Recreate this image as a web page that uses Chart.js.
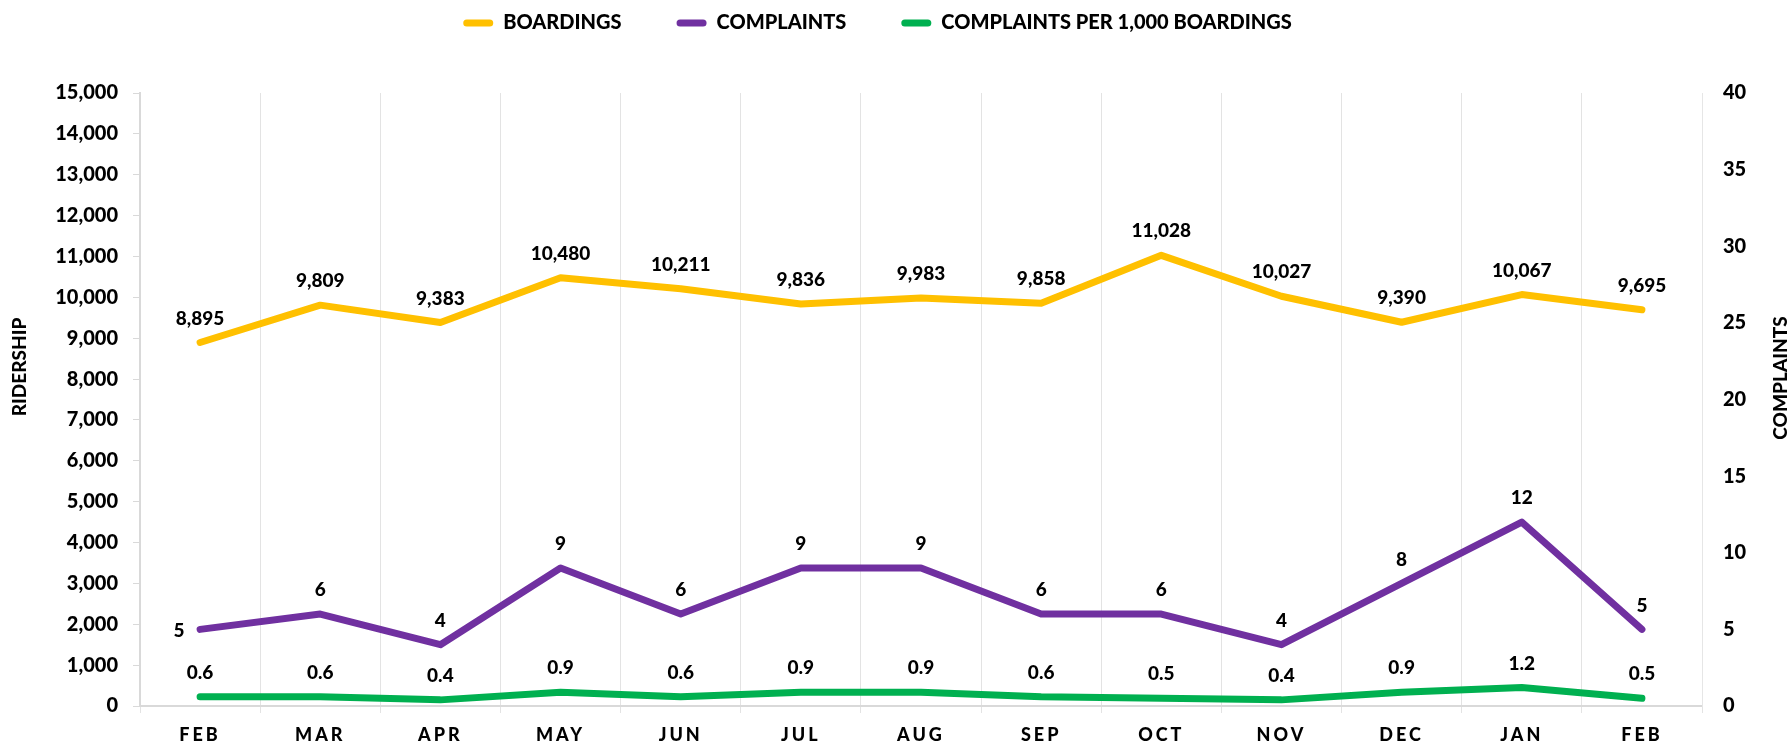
<!DOCTYPE html>
<html>
<head>
<meta charset="utf-8">
<script src="https://cdn.jsdelivr.net/npm/chart.js@4.4.1/dist/chart.umd.min.js"></script>
<style>
  html, body { margin: 0; padding: 0; background: #fff; }
  canvas { display: block; }
</style>
</head>
<body>
<canvas id="chart" width="1791" height="747"></canvas>
<script>
// data
const months = ['FEB', 'MAR', 'APR', 'MAY', 'JUN', 'JUL', 'AUG', 'SEP', 'OCT', 'NOV', 'DEC', 'JAN', 'FEB'];
const boardings = [8895, 9809, 9383, 10480, 10211, 9836, 9983, 9858, 11028, 10027, 9390, 10067, 9695];
const complaints = [5, 6, 4, 9, 6, 9, 9, 6, 6, 4, 8, 12, 5];
const perThousand = [0.6, 0.6, 0.4, 0.9, 0.6, 0.9, 0.9, 0.6, 0.5, 0.4, 0.9, 1.2, 0.5];
const ridershipRange = [0, 15000, 1000];
const complaintRange = [0, 40, 5];

const FONT = 'Lato';
const WEIGHT = '900';
const formats = [
    v => v.toLocaleString('en-US'),
    v => String(v),
    v => v.toFixed(1)
];

// legend sits higher and a bit left of where chart.js would put it
const legendTweak = {
    id: 'legendTweak',
    afterInit(chart) {
        const lg = chart.legend;
        if (!lg) return;
        const fit = lg.fit;
        lg.fit = function () { fit.call(this); this.height = 93; };
        const draw = lg.draw;
        lg.draw = function () {
            const c = this.ctx;
            c.save();
            c.translate(-22, -42);
            draw.call(this);
            c.restore();
        };
    }
};

// value labels + axis titles
const valueLabels = {
    id: 'valueLabels',
    afterDatasetsDraw(chart) {
        chart.ctx.letterSpacing = '3px'; // for the month labels drawn next
    },
    afterDraw(chart) {
        const ctx = chart.ctx;
        ctx.letterSpacing = '0px';
        ctx.save();
        ctx.font = WEIGHT + ' 19px ' + FONT;
        ctx.fillStyle = '#000';
        ctx.textAlign = 'center';
        ctx.textBaseline = 'middle';
        chart.data.datasets.forEach((ds, i) => {
            const meta = chart.getDatasetMeta(i);
            meta.data.forEach((pt, j) => {
                let x = pt.x, y = pt.y - 24;
                if (i === 1 && j === 0) { x = pt.x - 21; y = pt.y + 1; }
                ctx.fillText(formats[i](ds.data[j]), x, y);
            });
        });

        ctx.font = WEIGHT + ' 19px ' + FONT;
        ctx.save();
        ctx.translate(20, 367);
        ctx.rotate(-Math.PI / 2);
        ctx.fillText('RIDERSHIP', 0, 0);
        ctx.restore();
        ctx.save();
        ctx.translate(1781, 378);
        ctx.rotate(-Math.PI / 2);
        ctx.fillText('COMPLAINTS', 0, 0);
        ctx.restore();
        ctx.restore();
    }
};

function build() {
    Chart.defaults.font.family = FONT;
    Chart.defaults.font.weight = WEIGHT;
    Chart.defaults.color = '#000';

    new Chart(document.getElementById('chart'), {
        type: 'line',
        data: {
            labels: months,
            datasets: [{
                label: 'BOARDINGS',
                data: boardings,
                borderColor: '#FFC000',
                backgroundColor: '#FFC000',
                yAxisID: 'y'
            }, {
                label: 'COMPLAINTS',
                data: complaints,
                borderColor: '#7030A0',
                backgroundColor: '#7030A0',
                yAxisID: 'y1'
            }, {
                label: 'COMPLAINTS PER 1,000 BOARDINGS',
                data: perThousand,
                borderColor: '#00B050',
                backgroundColor: '#00B050',
                yAxisID: 'y1'
            }]
        },
        options: {
            responsive: false,
            animation: false,
            layout: { padding: { left: 8, right: 0, top: 0, bottom: 0 } },
            elements: {
                line: { borderWidth: 7, tension: 0, borderCapStyle: 'round', borderJoinStyle: 'round' },
                point: { radius: 0, hoverRadius: 0 }
            },
            plugins: {
                tooltip: { enabled: false },
                legend: {
                    position: 'top',
                    labels: {
                        boxWidth: 30,
                        boxHeight: 7,
                        useBorderRadius: true,
                        borderRadius: 3.5,
                        padding: 55,
                        color: '#000',
                        font: { size: 20, weight: WEIGHT },
                        generateLabels(chart) {
                            return chart.data.datasets.map((ds, i) => ({
                                text: ds.label,
                                fillStyle: ds.borderColor,
                                strokeStyle: ds.borderColor,
                                lineWidth: 0,
                                borderRadius: 3.5,
                                hidden: false,
                                datasetIndex: i
                            }));
                        }
                    }
                }
            },
            scales: {
                x: {
                    offset: true,
                    afterFit(s) { s.height = 41; },
                    grid: { offset: true, color: '#e3e3e3', lineWidth: 1, tickLength: 7 },
                    border: { color: '#d9d9d9', width: 2 },
                    ticks: { z: 1, padding: 11, font: { size: 18, weight: WEIGHT }, maxRotation: 0, autoSkip: false }
                },
                y: {
                    position: 'left',
                    min: ridershipRange[0],
                    max: ridershipRange[1],
                    afterFit(s) { s.width = 132; },
                    grid: { drawOnChartArea: false, color: '#d9d9d9', tickLength: 7 },
                    border: { color: '#d9d9d9', width: 2 },
                    ticks: {
                        stepSize: ridershipRange[2],
                        padding: 15,
                        font: { size: 20, weight: WEIGHT },
                        callback: v => v.toLocaleString('en-US')
                    }
                },
                y1: {
                    position: 'right',
                    min: complaintRange[0],
                    max: complaintRange[1],
                    afterFit(s) { s.width = 89; },
                    grid: { display: false, drawTicks: false },
                    border: { color: '#e6e6e6', width: 1 },
                    ticks: { stepSize: complaintRange[2], padding: 21, font: { size: 20, weight: WEIGHT } }
                }
            }
        },
        plugins: [legendTweak, valueLabels]
    });
}

document.fonts.load(WEIGHT + ' 20px ' + FONT).then(build, build);
</script>
</body>
</html>
